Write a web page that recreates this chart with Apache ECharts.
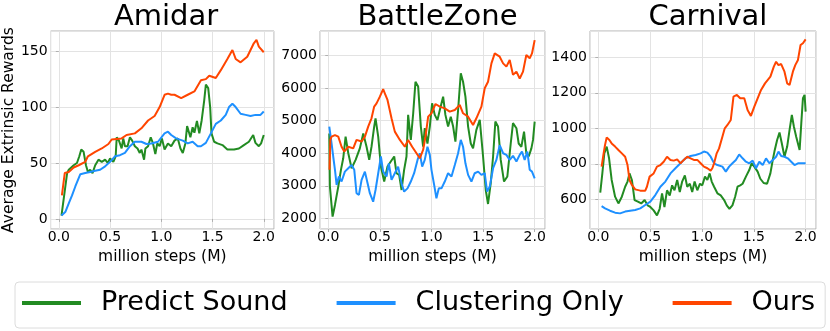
<!DOCTYPE html>
<html>
<head>
<meta charset="utf-8">
<script src="https://cdn.jsdelivr.net/npm/echarts@6/dist/echarts.min.js"></script>
<style>
html,body{margin:0;padding:0;background:#fff;}
#chart{width:830px;height:331px;}
</style>
</head>
<body>
<div id="chart"></div>
<script>
// ---------- data (x = million steps, y = average extrinsic reward) ----------
const titles = ['Amidar', 'BattleZone', 'Carnival'];
const seriesNames = ['Predict Sound', 'Clustering Only', 'Ours'];

const amidarSound = [[0.026,3],[0.081,41],[0.097,44],[0.145,48],[0.177,50],[0.2,56],[0.219,62],[0.242,60],[0.265,48],[0.284,42],[0.306,44],[0.329,41],[0.355,48],[0.387,53],[0.419,51],[0.452,53],[0.477,50],[0.5,54],[0.532,51],[0.555,56],[0.565,73],[0.587,70],[0.613,63],[0.629,72],[0.645,65],[0.671,65],[0.694,73],[0.716,70],[0.742,65],[0.768,63],[0.79,59],[0.806,62],[0.832,53],[0.845,63],[0.871,65],[0.897,73],[0.919,67.5],[0.942,58],[0.961,67.5],[0.984,65],[1.006,72],[1.032,62],[1.065,67.5],[1.097,65],[1.129,70],[1.161,72],[1.187,63],[1.21,59],[1.235,67.5],[1.252,83],[1.268,83],[1.284,73],[1.306,82],[1.323,77],[1.348,87.5],[1.371,76.5],[1.394,88],[1.419,106],[1.435,120],[1.458,117],[1.477,100],[1.49,76.5],[1.516,69],[1.548,67.5],[1.597,66],[1.645,62],[1.71,62],[1.758,63],[1.806,66],[1.855,69],[1.897,75],[1.919,68],[1.952,65],[1.974,67.5],[2.0,75]];
const amidarCluster = [[0.026,3],[0.065,6.5],[0.097,14],[0.129,21],[0.161,29],[0.21,40],[0.258,41],[0.306,42],[0.355,43],[0.403,44],[0.452,47],[0.5,51],[0.548,56],[0.597,57],[0.645,59],[0.694,65],[0.742,69],[0.806,69],[0.855,67],[0.903,67.5],[0.968,69],[1.032,76.5],[1.065,78],[1.097,75],[1.145,72],[1.21,70],[1.258,67.5],[1.306,69],[1.355,65],[1.387,65],[1.435,68],[1.484,76.5],[1.532,85],[1.581,88],[1.629,93],[1.661,100],[1.694,103],[1.726,100],[1.774,94],[1.823,93],[1.871,92],[1.919,93],[1.968,93],[2.0,96]];
const amidarOurs = [[0.03,21],[0.058,41],[0.097,42],[0.145,46],[0.194,48],[0.258,51],[0.284,56],[0.355,60],[0.419,63],[0.484,67],[0.516,71],[0.613,72],[0.661,75],[0.742,76.5],[0.806,81],[0.871,88],[0.935,92],[0.984,100],[1.032,111],[1.065,112],[1.097,111],[1.129,111],[1.194,108],[1.258,111],[1.323,114],[1.387,124],[1.435,125],[1.468,128],[1.532,126],[1.581,133],[1.645,143],[1.694,151],[1.726,143],[1.774,140],[1.839,145],[1.903,157],[1.929,160],[1.952,154],[2.0,149]];

const battleSound = [[0.01,4610],[0.016,2975],[0.042,2050],[0.065,2410],[0.097,2975],[0.123,3490],[0.145,3845],[0.168,4510],[0.194,4000],[0.226,3540],[0.265,3795],[0.306,4150],[0.339,4610],[0.371,4200],[0.397,3795],[0.419,4200],[0.445,4820],[0.458,5075],[0.484,4510],[0.51,3590],[0.542,3130],[0.574,3590],[0.606,3745],[0.639,3900],[0.661,3385],[0.687,3335],[0.71,2870],[0.735,3490],[0.758,3900],[0.774,5180],[0.8,4410],[0.823,5230],[0.845,6200],[0.871,6050],[0.897,4820],[0.919,4200],[0.935,4770],[0.961,4300],[0.984,4820],[1.006,5535],[1.032,5180],[1.058,5025],[1.081,5330],[1.113,5740],[1.135,5180],[1.161,4820],[1.187,5125],[1.21,4820],[1.232,4360],[1.258,5330],[1.284,6460],[1.306,6200],[1.329,5740],[1.355,4820],[1.381,4300],[1.403,4150],[1.435,4720],[1.468,5025],[1.5,3900],[1.526,2870],[1.548,2440],[1.574,3075],[1.597,3900],[1.619,4975],[1.645,4820],[1.671,3795],[1.703,3130],[1.735,3285],[1.768,4300],[1.79,4925],[1.823,4770],[1.845,4300],[1.871,4200],[1.897,4665],[1.919,4000],[1.942,3900],[1.968,4150],[1.984,4410],[2.0,4975]];
const battleCluster = [[0.01,4820],[0.016,4840],[0.032,4300],[0.048,3900],[0.065,3490],[0.081,3025],[0.103,3285],[0.129,3130],[0.161,3435],[0.194,3540],[0.226,3640],[0.252,3490],[0.274,2770],[0.297,2720],[0.323,3180],[0.355,3435],[0.381,3075],[0.403,2770],[0.435,2510],[0.458,2870],[0.484,3385],[0.51,3900],[0.532,3435],[0.565,3285],[0.587,3690],[0.613,3180],[0.645,3385],[0.677,3590],[0.71,3075],[0.735,2820],[0.768,2920],[0.8,3130],[0.832,3385],[0.865,3795],[0.887,4000],[0.91,3590],[0.935,3795],[0.961,4200],[0.984,3950],[1.0,3490],[1.026,3025],[1.048,2615],[1.071,2920],[1.097,2920],[1.129,3130],[1.161,3385],[1.194,3285],[1.226,3640],[1.258,4000],[1.284,4410],[1.306,4200],[1.329,3690],[1.355,3335],[1.387,3130],[1.419,3385],[1.452,3435],[1.484,3335],[1.516,3385],[1.539,2820],[1.565,2975],[1.597,3540],[1.629,3795],[1.661,4250],[1.694,4000],[1.726,3950],[1.758,3795],[1.79,3920],[1.823,3745],[1.855,3950],[1.877,4050],[1.903,3795],[1.929,4050],[1.952,3490],[1.974,3435],[2.0,3230]];
const battleOurs = [[0.012,3490],[0.02,4410],[0.032,4510],[0.065,4560],[0.097,4510],[0.129,4200],[0.155,4050],[0.194,4200],[0.242,4150],[0.274,4410],[0.323,4360],[0.355,4510],[0.387,4820],[0.419,5075],[0.445,5435],[0.468,5535],[0.5,5740],[0.532,5970],[0.548,5845],[0.574,5640],[0.613,5075],[0.645,4665],[0.694,4410],[0.742,4200],[0.774,4410],[0.813,4200],[0.855,4000],[0.887,3845],[0.919,4100],[0.942,4510],[0.968,5125],[1.0,5230],[1.039,5515],[1.081,5435],[1.129,5380],[1.177,5280],[1.226,5330],[1.274,5485],[1.306,5230],[1.355,5125],[1.403,4870],[1.435,5075],[1.484,5435],[1.516,6000],[1.548,6200],[1.581,6765],[1.613,7070],[1.661,6970],[1.694,6765],[1.726,6665],[1.758,6870],[1.79,6410],[1.823,6510],[1.855,6300],[1.887,6510],[1.919,7020],[1.952,6920],[1.974,7070],[2.0,7480]];

const carnivalSound = [[0.019,638],[0.039,746],[0.058,859],[0.081,897],[0.104,831],[0.129,709],[0.162,615],[0.194,577],[0.227,615],[0.259,671],[0.282,700],[0.301,746],[0.324,709],[0.35,596],[0.382,587],[0.414,577],[0.447,596],[0.476,566],[0.502,557],[0.534,538],[0.566,510],[0.592,547],[0.615,634],[0.638,557],[0.663,651],[0.689,622],[0.712,679],[0.735,651],[0.761,709],[0.786,641],[0.809,700],[0.835,735],[0.858,671],[0.883,688],[0.906,641],[0.929,700],[0.955,651],[0.981,688],[1.003,679],[1.029,728],[1.052,709],[1.074,746],[1.094,700],[1.117,671],[1.149,634],[1.181,622],[1.214,596],[1.239,566],[1.265,547],[1.294,566],[1.32,615],[1.343,671],[1.369,679],[1.392,688],[1.424,728],[1.456,765],[1.479,803],[1.505,784],[1.537,756],[1.563,716],[1.595,692],[1.628,688],[1.66,746],[1.683,822],[1.699,869],[1.725,934],[1.748,976],[1.77,916],[1.796,840],[1.822,897],[1.845,991],[1.867,1075],[1.887,1009],[1.909,953],[1.926,962],[1.942,878],[1.958,1028],[1.974,1169],[1.99,1188],[2.0,1094]];
const carnivalCluster = [[0.032,562],[0.065,549],[0.113,536],[0.162,525],[0.21,521],[0.259,531],[0.307,536],[0.356,540],[0.405,549],[0.453,568],[0.502,587],[0.55,624],[0.599,671],[0.647,700],[0.696,746],[0.744,775],[0.793,803],[0.841,831],[0.89,844],[0.939,850],[0.987,859],[1.019,869],[1.052,863],[1.084,840],[1.117,803],[1.149,793],[1.197,784],[1.23,756],[1.262,784],[1.294,803],[1.327,822],[1.359,853],[1.392,831],[1.424,812],[1.456,803],[1.489,818],[1.521,775],[1.553,812],[1.586,793],[1.618,831],[1.65,803],[1.683,822],[1.715,840],[1.738,869],[1.764,844],[1.796,840],[1.828,831],[1.861,812],[1.893,793],[1.926,803],[1.958,803],[2.0,803]];
const carnivalOurs = [[0.032,784],[0.049,850],[0.065,906],[0.081,949],[0.107,934],[0.129,915],[0.162,897],[0.194,878],[0.227,859],[0.259,840],[0.282,793],[0.301,709],[0.324,681],[0.356,656],[0.405,649],[0.453,649],[0.469,671],[0.495,728],[0.534,746],[0.566,784],[0.599,793],[0.631,812],[0.663,840],[0.696,822],[0.728,818],[0.761,825],[0.793,803],[0.825,822],[0.858,840],[0.89,831],[0.922,822],[0.955,822],[0.987,803],[1.019,784],[1.052,775],[1.084,762],[1.1,775],[1.117,803],[1.142,859],[1.165,887],[1.197,953],[1.22,1000],[1.246,1019],[1.278,1047],[1.304,1178],[1.337,1188],[1.369,1169],[1.408,1169],[1.44,1103],[1.472,1070],[1.505,1122],[1.537,1169],[1.57,1216],[1.608,1253],[1.66,1291],[1.693,1347],[1.715,1375],[1.738,1356],[1.764,1362],[1.796,1319],[1.822,1253],[1.845,1244],[1.877,1319],[1.9,1356],[1.926,1385],[1.951,1469],[1.974,1479],[2.0,1501]];

const xRange = [-0.08, 2.1];
const yRanges = [[-9, 168], [1670, 7760], [433, 1548]];
const ySplit = [4, 6, 5];

// ---------- styling ----------
const FONT = 'DejaVu Sans';
const colors = ['#228B22', '#1E90FF', '#FF4500'];
const FRAME = '#b0b0b0';
const gridBoxes = [
  {left: 48, top: 31, width: 226, height: 198},
  {left: 320, top: 31, width: 225, height: 198},
  {left: 590, top: 31, width: 226, height: 198}
];
const panelData = [
  [amidarSound, amidarCluster, amidarOurs],
  [battleSound, battleCluster, battleOurs],
  [carnivalSound, carnivalCluster, carnivalOurs]
];

const option = {
  animation: false,
  backgroundColor: '#ffffff',
  textStyle: {fontFamily: FONT},
  title: titles.map((t, i) => ({
    text: t,
    left: gridBoxes[i].left + gridBoxes[i].width / 2,
    textAlign: 'center',
    top: -2,
    textStyle: {fontFamily: FONT, fontSize: 29, fontWeight: 'normal', color: '#000'}
  })),
  grid: gridBoxes.map(g => Object.assign({show: true, borderColor: FRAME, borderWidth: 1, backgroundColor: 'transparent'}, g)),
  xAxis: gridBoxes.map((g, i) => ({
    type: 'value', gridIndex: i, min: xRange[0], max: xRange[1], splitNumber: 4,
    name: 'million steps (M)', nameLocation: 'middle', nameGap: 14,
    nameTextStyle: {fontFamily: FONT, fontSize: 15.5, color: '#000'},
    axisLine: {show: false},
    axisTick: {show: true, length: 3, lineStyle: {color: FRAME}},
    axisLabel: {fontFamily: FONT, fontSize: 14, color: '#000', margin: 1, showMinLabel: false, showMaxLabel: false,
      formatter: v => v.toFixed(1)},
    splitLine: {show: true, lineStyle: {color: '#e3e3e3', width: 1}}
  })),
  yAxis: gridBoxes.map((g, i) => ({
    type: 'value', gridIndex: i, min: yRanges[i][0], max: yRanges[i][1], splitNumber: ySplit[i],
    name: i === 0 ? 'Average Extrinsic Rewards' : '', nameLocation: 'middle', nameGap: 33,
    nameTextStyle: {fontFamily: FONT, fontSize: 15.5, color: '#000'},
    axisLine: {show: false},
    axisTick: {show: true, length: 3, lineStyle: {color: FRAME}},
    axisLabel: {fontFamily: FONT, fontSize: 14, color: '#000', margin: 3, showMinLabel: false, showMaxLabel: false,
      formatter: v => String(Math.round(v))},
    splitLine: {show: true, lineStyle: {color: '#e3e3e3', width: 1}}
  })),
  legend: {
    data: seriesNames,
    left: 15, top: 282, width: 805,
    icon: 'rect', itemWidth: 59, itemHeight: 4, itemGap: 49,
    padding: [7, 10, 11, 7],
    backgroundColor: '#fff', borderColor: '#dcdcdc', borderWidth: 1, borderRadius: 4,
    textStyle: {fontFamily: FONT, fontSize: 27, lineHeight: 28, color: '#000', padding: [0, 0, 0, 15]}
  },
  series: []
};

panelData.forEach((arr, p) => {
  arr.forEach((d, s) => {
    option.series.push({
      name: seriesNames[s], type: 'line', xAxisIndex: p, yAxisIndex: p,
      data: d, showSymbol: false, symbol: 'none', z: 2 + s,
      lineStyle: {color: colors[s], width: 2}, itemStyle: {color: colors[s]},
      emphasis: {disabled: true}
    });
  });
});

const chart = echarts.init(document.getElementById('chart'), null, {renderer: 'canvas'});
chart.setOption(option);
</script>
</body>
</html>
